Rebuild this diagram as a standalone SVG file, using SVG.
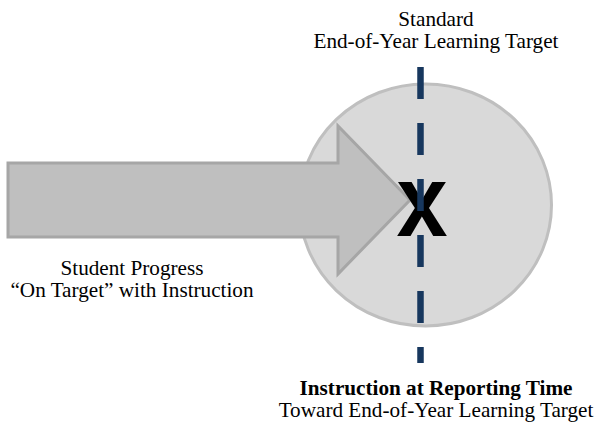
<svg xmlns="http://www.w3.org/2000/svg" width="599" height="423" viewBox="0 0 599 423">
<style>
.lbl{font-family:"Liberation Serif","Times New Roman",serif;font-size:21.2px;fill:#000;text-anchor:middle}
.b{font-weight:bold}
.target{fill:#d9d9d9;stroke:#bfbfbf;stroke-width:3}
.progress{fill:#bfbfbf;stroke:#a6a6a6;stroke-width:3;stroke-linejoin:miter}
.mark{font-family:"Liberation Sans",Arial,sans-serif;font-weight:bold;font-size:102px;fill:#000;text-anchor:middle}
.dash{stroke:#17375e;stroke-width:6.5;stroke-dasharray:32 24;fill:none}
</style>
<rect width="599" height="423" fill="#fff"/>
<g id="target-circle">
<ellipse class="target" cx="425.5" cy="205" rx="126" ry="121"/>
</g>
<g id="progress-arrow">
<path class="progress" d="M8,163 H338 V126 L410,200 L338,274 V237 H8 Z"/>
</g>
<g id="x-mark">
<text class="mark" x="422" y="236" transform="translate(422 0) scale(0.9 1) translate(-422 0)">x</text>
</g>
<g id="connectors">
<line class="dash" x1="420.5" y1="67" x2="420.5" y2="363"/>
</g>
<g id="label-standard">
<text class="lbl" x="436" y="26">Standard</text>
<text class="lbl" x="436" y="48">End-of-Year Learning Target</text>
</g>
<g id="label-progress">
<text class="lbl" x="132" y="275">Student Progress</text>
<text class="lbl" x="132" y="297">“On Target” with Instruction</text>
</g>
<g id="label-reporting">
<text class="lbl b" x="436" y="395">Instruction at Reporting Time</text>
<text class="lbl" x="436" y="417">Toward End-of-Year Learning Target</text>
</g>
</svg>
